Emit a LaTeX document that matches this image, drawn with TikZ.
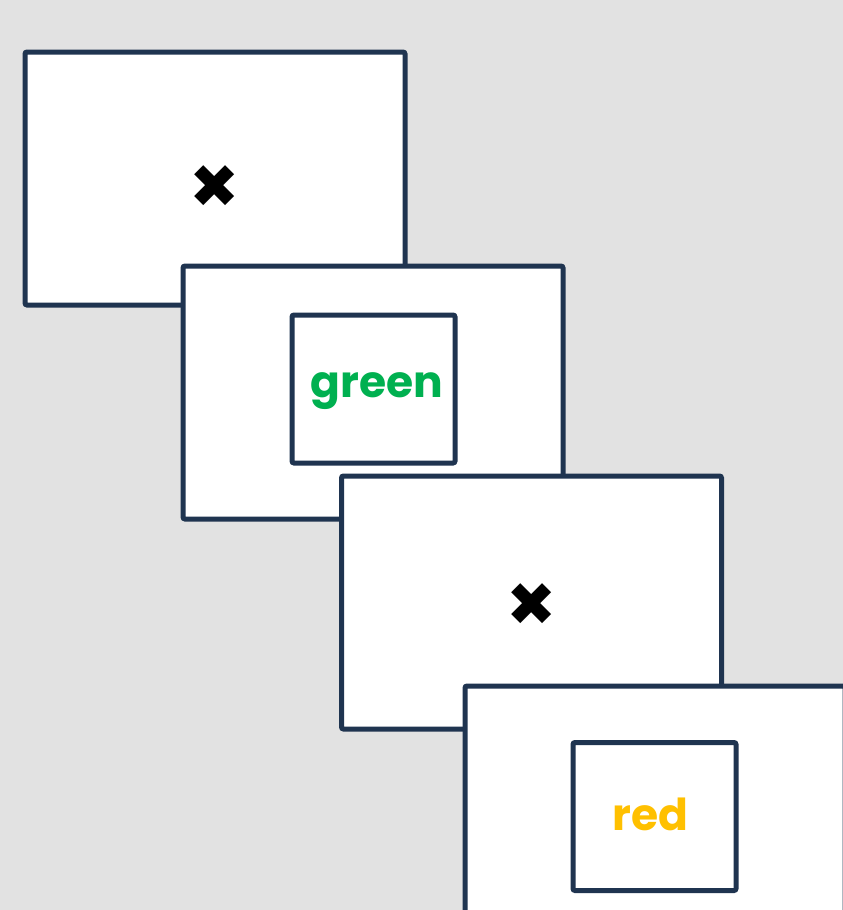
\documentclass[tikz,border=0pt]{standalone}
\usepackage{fontspec}
\setmainfont{Poppins}
\newfontfamily\symfont{DejaVu Sans}
\usepackage{xcolor}
\definecolor{canvas}{HTML}{E2E2E2}
\definecolor{framenavy}{HTML}{1F3450}
\definecolor{cuegreen}{HTML}{00B050}
\definecolor{cueyellow}{HTML}{FFC000}
\tikzset{
  screen/.style={draw=framenavy,line width=5pt,fill=white,rounded corners=2pt,
                 minimum width=380pt,minimum height=253pt,inner sep=0pt},
  wordbox/.style={draw=framenavy,line width=5pt,fill=white,rounded corners=2pt,
                  minimum width=163pt,minimum height=148pt,inner sep=0pt},
  fixation/.style={inner sep=0pt,font=\symfont\fontsize{60}{60}\selectfont},
  word/.style={inner sep=0pt,font=\bfseries\fontsize{44}{44}\selectfont}
}
\begin{document}
\begin{tikzpicture}[x=1pt,y=-1pt]
  \useasboundingbox (0,0) rectangle (843,910);
  \clip (0,0) rectangle (843,910);
  \fill[canvas] (0,0) rectangle (843,910);
  % trial screens
  \node[screen] (fix1) at (215,178.5) {};
  \node[screen] (stim1) at (373,392.5) {};
  \node[screen] (fix2) at (531.5,602.5) {};
  \node[screen] (stim2) at (655,812.5) {};
  \node[fixation] (cross1) at (215,187) {✖};
  \node[fixation] (cross2) at (531.5,605) {✖};
  \node[wordbox] (box1) at (373.5,389) {};
  \node[wordbox] (box2) at (654.5,816.5) {};
  \node[word,text=cuegreen] (w1) at (377,391) {green};
  \node[word,text=cueyellow] (w2) at (650.5,814.5) {red};
\end{tikzpicture}
\end{document}
